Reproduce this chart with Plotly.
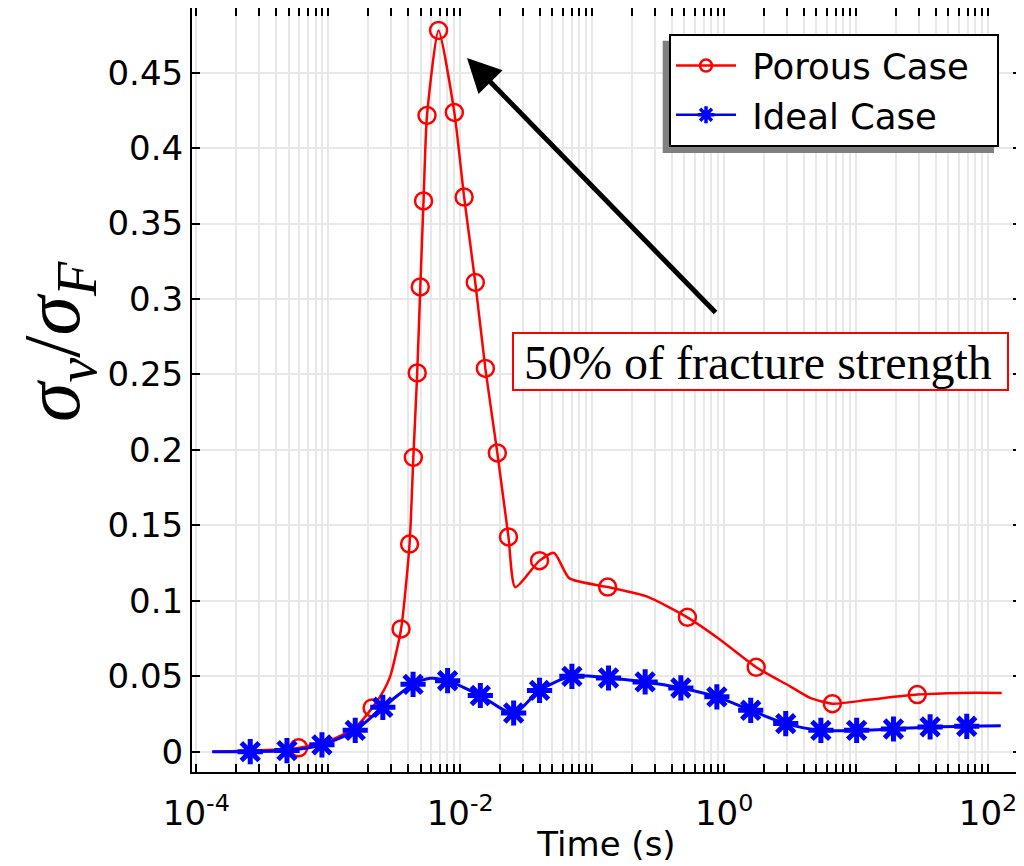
import plotly.graph_objects as go

# ---------------- data (time in s, sigma_v / sigma_F) ----------------
porous_t = [1.32e-4, 2.56e-4, 5.96e-4, 1.13e-3, 1.60e-3, 2.15e-3, 2.61e-3, 2.95e-3,
            3.56e-3, 4.13e-3, 4.41e-3, 4.72e-3, 4.98e-3, 5.27e-3, 5.60e-3, 6.85e-3,
            9.02e-3, 1.07e-2, 1.30e-2, 1.55e-2, 1.91e-2, 2.32e-2, 2.61e-2, 3.99e-2,
            5.15e-2, 6.70e-2, 0.131, 0.259, 0.527, 0.933, 1.75, 3.16, 4.49, 6.61,
            12.8, 29.1, 61.4, 127.0]
porous_v = [0.0, 0.0008, 0.0025, 0.009, 0.016, 0.029, 0.040, 0.050,
            0.0813, 0.1376, 0.195, 0.251, 0.308, 0.365, 0.4217, 0.478,
            0.4237, 0.3676, 0.311, 0.254, 0.198, 0.1423, 0.109, 0.1266,
            0.1317, 0.115, 0.1091, 0.1029, 0.089, 0.0742, 0.0559, 0.0433, 0.0356, 0.0318,
            0.0345, 0.0378, 0.0389, 0.0389]

porous_mt = [5.96e-4, 2.15e-3, 3.56e-3, 4.13e-3, 4.41e-3, 4.72e-3, 4.98e-3, 5.27e-3,
             5.60e-3, 6.85e-3, 9.02e-3, 1.07e-2, 1.30e-2, 1.55e-2, 1.91e-2, 2.32e-2,
             3.99e-2, 0.131, 0.527, 1.75, 6.61, 29.1]
porous_mv = [0.0025, 0.029, 0.0813, 0.1376, 0.195, 0.251, 0.308, 0.365,
             0.4217, 0.478, 0.4237, 0.3676, 0.311, 0.254, 0.198, 0.1423,
             0.1266, 0.1091, 0.089, 0.0559, 0.0318, 0.0378]

ideal_t = [1.32e-4, 2.56e-4, 4.86e-4, 8.95e-4, 1.60e-3, 2.59e-3, 4.39e-3, 5.93e-3,
           8.02e-3, 1.42e-2, 2.54e-2, 3.99e-2, 7.02e-2, 0.133, 0.252, 0.470,
           0.881, 1.59, 2.93, 5.41, 10.1, 19.2, 36.4, 69.0, 125.0]
ideal_v = [0.0, 0.0, 0.0007, 0.0045, 0.0141, 0.0294, 0.0446, 0.0486,
           0.047, 0.0372, 0.0256, 0.0406, 0.0499, 0.0488, 0.0462, 0.0422,
           0.0363, 0.0274, 0.0186, 0.0141, 0.0141, 0.0150, 0.0164, 0.0168, 0.0172]

ideal_mt = [2.56e-4, 4.86e-4, 8.95e-4, 1.60e-3, 2.59e-3, 4.39e-3,
            8.02e-3, 1.42e-2, 2.54e-2, 3.99e-2, 7.02e-2, 0.133, 0.252, 0.470,
            0.881, 1.59, 2.93, 5.41, 10.1, 19.2, 36.4, 69.0]
ideal_mv = [0.0, 0.0007, 0.0045, 0.0141, 0.0294, 0.0446,
            0.047, 0.0372, 0.0256, 0.0406, 0.0499, 0.0488, 0.0462, 0.0422,
            0.0363, 0.0274, 0.0186, 0.0141, 0.0141, 0.0150, 0.0164, 0.0168]

x_tickvals = [1e-4, 1e-3, 1e-2, 1e-1, 1, 10, 100]
x_ticktext = ["10<sup>-4</sup>", "", "10<sup>-2</sup>", "", "10<sup>0</sup>", "", "10<sup>2</sup>"]
x_minor = [m * 10.0 ** k for k in range(-4, 2) for m in range(2, 10)]
y_tickvals = [0, 0.05, 0.1, 0.15, 0.2, 0.25, 0.3, 0.35, 0.4, 0.45]
y_ticktext = ["0", "0.05", "0.1", "0.15", "0.2", "0.25", "0.3", "0.35", "0.4", "0.45"]

RED = "#ff0000"
BLUE = "#0000ff"
FONT = "DejaVu Sans"

fig = go.Figure()
fig.add_trace(go.Scatter(x=porous_t, y=porous_v, mode="lines", line=dict(color=RED, width=2.5, shape="spline", smoothing=0.6),
                         showlegend=False, hoverinfo="skip"))
fig.add_trace(go.Scatter(x=porous_mt, y=porous_mv, mode="markers", showlegend=False,
                         marker=dict(symbol="circle-open", size=17, color=RED, line=dict(width=2.5, color=RED))))
fig.add_trace(go.Scatter(x=ideal_t, y=ideal_v, mode="lines", line=dict(color=BLUE, width=3, shape="spline", smoothing=0.8),
                         showlegend=False, hoverinfo="skip"))
fig.add_trace(go.Scatter(x=ideal_mt, y=ideal_mv, mode="markers", showlegend=False,
                         marker=dict(symbol="asterisk-open", size=21, color=BLUE, line=dict(width=5, color=BLUE))))
# legend entries
fig.add_trace(go.Scatter(x=[None], y=[None], mode="lines+markers", name="&nbsp;Porous Case&nbsp;&nbsp;",
                         line=dict(color=RED, width=2.5),
                         marker=dict(symbol="circle-open", size=12, color=RED, line=dict(width=2.5, color=RED))))
fig.add_trace(go.Scatter(x=[None], y=[None], mode="lines+markers", name="&nbsp;Ideal Case",
                         line=dict(color=BLUE, width=2.5),
                         marker=dict(symbol="asterisk-open", size=14, color=BLUE, line=dict(width=3.5, color=BLUE))))

# page has an 8px body margin: figure is 1016x858 so the page photo matches the reference
OFF = 8
W, H = 1024 - OFF, 866 - OFF
L, R, T, B = 192 - OFF, 3, 0, 94
pw, ph = W - L - R, H - T - B

def px(x):
    return (x - OFF - L) / pw

def py(y):
    return (H - B - (y - OFF)) / ph

axis_common = dict(showline=True, linecolor="black", linewidth=2, mirror="ticks",
                   ticks="inside", ticklen=8, tickwidth=2, tickcolor="black",
                   showgrid=True, gridcolor="#e8e8e8", gridwidth=2, zeroline=False, automargin=False,
                   tickfont=dict(family=FONT, size=34, color="black"))

fig.update_xaxes(type="log", range=[-4.033, 2.25], tickmode="array",
                 tickvals=x_tickvals, ticktext=x_ticktext, ticklabelstandoff=10,
                 minor=dict(tickvals=x_minor, ticks="inside", ticklen=8, tickwidth=2, tickcolor="black",
                            showgrid=True, gridcolor="#e8e8e8", gridwidth=2),
                 title=dict(text="Time (s)", font=dict(family=FONT, size=34, color="black"), standoff=0),
                 **axis_common)
fig.update_yaxes(range=[-0.0135, 0.4929], tickmode="array", tickvals=y_tickvals, ticktext=y_ticktext,
                 **axis_common)

# legend shadow
fig.add_shape(type="rect", xref="paper", yref="paper", x0=px(662.7), x1=px(994), y0=py(153), y1=py(40.7),
              fillcolor="#808080", line=dict(width=0), layer="above")
# text box
fig.add_shape(type="rect", xref="paper", yref="paper", x0=px(513), x1=px(1008), y0=py(390), y1=py(333),
              fillcolor="white", line=dict(color=RED, width=2), layer="above")

fig.add_annotation(xref="paper", yref="paper", x=px(758), y=py(362), text="50% of fracture strength",
                   showarrow=False, font=dict(family="Liberation Serif", size=48, color="black"),
                   xanchor="center", yanchor="middle")
fig.add_annotation(xref="paper", yref="paper", x=px(467), y=py(58), ax=250, ay=256, text="",
                   showarrow=True, arrowhead=2, arrowsize=1.35, arrowwidth=5, arrowcolor="black", standoff=0)
fig.add_annotation(xref="paper", yref="paper", x=px(58), y=py(342), textangle=-90,
                   text="<i>σ<sub>v</sub></i>/<i>σ<sub>F</sub></i>", showarrow=False,
                   font=dict(family="Liberation Serif", size=80, color="black"),
                   xanchor="center", yanchor="middle")

fig.update_layout(width=W, height=H, margin=dict(l=L, r=R, t=T, b=B, autoexpand=False),
                  paper_bgcolor="white", plot_bgcolor="white",
                  legend=dict(x=px(669), y=py(34), xanchor="left", yanchor="top",
                              bgcolor="white", bordercolor="black", borderwidth=2,
                              font=dict(family=FONT, size=35.5, color="black"), itemwidth=60,
                              tracegroupgap=0))

fig.write_html("out.html")
